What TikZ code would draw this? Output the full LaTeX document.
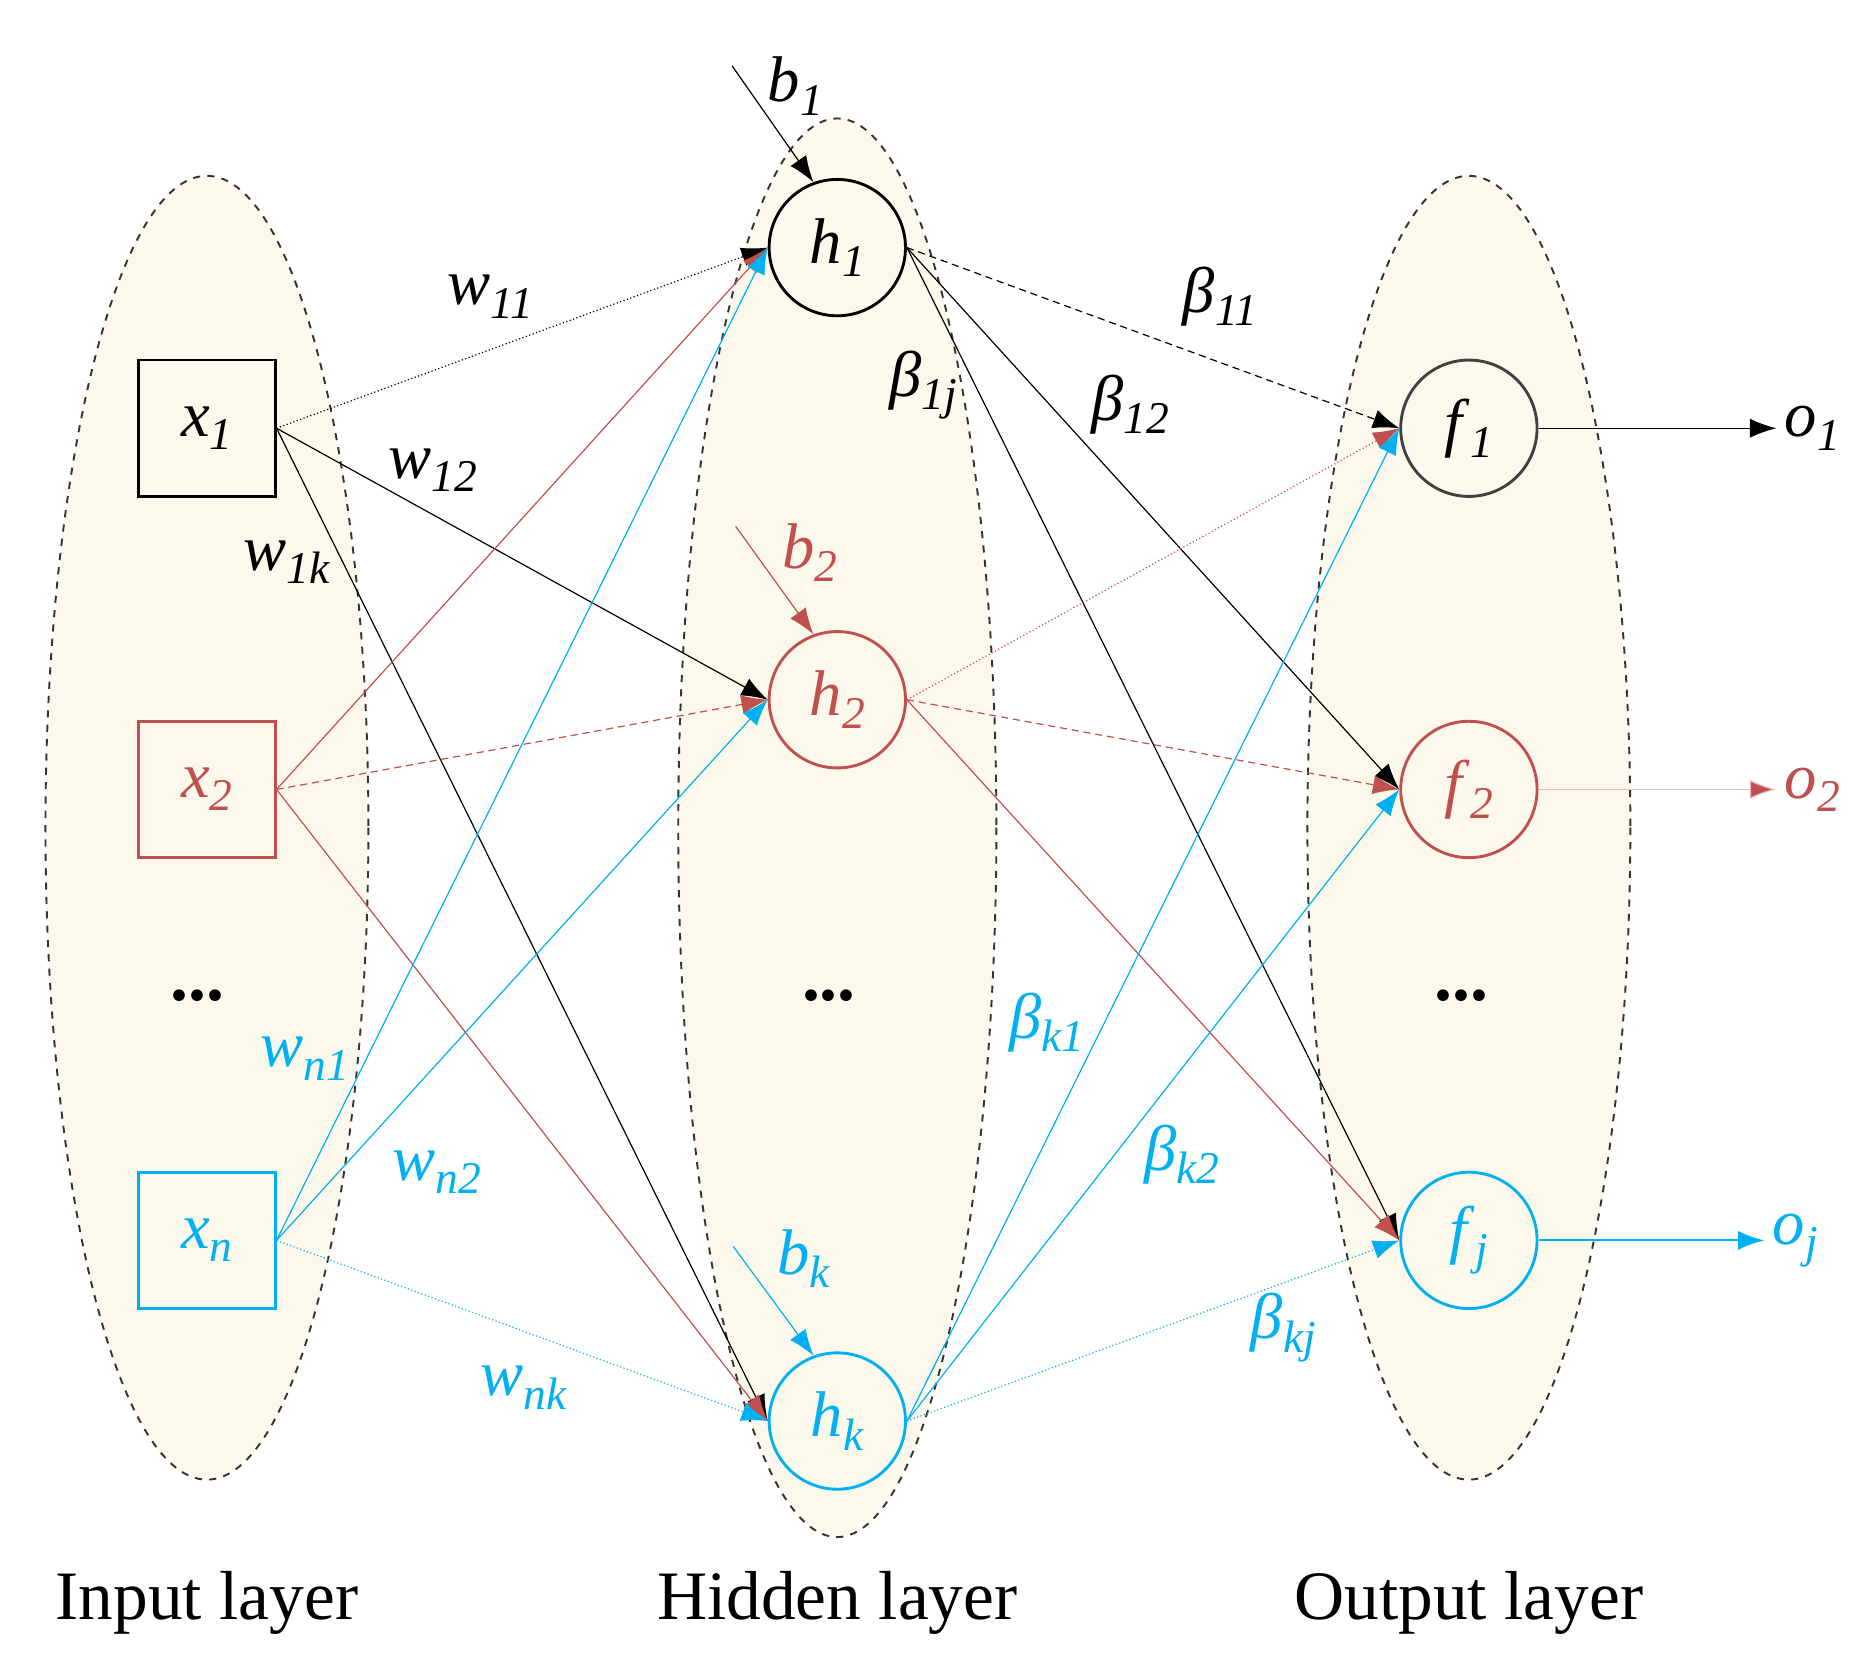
\documentclass[tikz,border=0pt]{standalone}
\usepackage{fontspec}
\setmainfont{Liberation Serif}
\usetikzlibrary{arrows.meta}
\definecolor{rd}{RGB}{192,80,77}
\definecolor{bl}{RGB}{0,176,240}
\definecolor{lay}{RGB}{253,248,236}
\newcommand{\lb}[2]{\textit{#1}\raisebox{-0.45ex}{\fontsize{19}{19}\selectfont\textit{#2}}}
\begin{document}
\begin{tikzpicture}[x=0.5pt,y=-0.5pt,
  layer/.style={draw=black!80,dashed,fill=lay,line width=0.8pt},
  sq/.style={draw,line width=1.2pt,minimum size=57pt,inner sep=0pt,font=\fontsize{27}{27}\selectfont},
  cir/.style={draw,circle,line width=1.2pt,minimum size=57pt,inner sep=0pt,font=\fontsize{27}{27}\selectfont},
  e/.style={-{Latex[length=11pt,width=8pt]},line width=0.5pt},
  lab/.style={font=\fontsize{27}{27}\selectfont},
  ttl/.style={font=\fontsize{29}{29}\selectfont}]
\useasboundingbox (0,0) rectangle (1560,1397);
\draw[layer] (173,692) ellipse [x radius=135,y radius=545];
\draw[layer] (700,692) ellipse [x radius=133,y radius=593];
\draw[layer] (1228,692) ellipse [x radius=135,y radius=545];
\node[sq] (x1) at (173,358) {\lb{x}{1}};
\node[sq,draw=rd,text=rd] (x2) at (173,660) {\lb{x}{2}};
\node[sq,draw=bl,text=bl] (xn) at (173,1037) {\lb{x}{n}};
\node[cir] (h1) at (700,207) {\lb{h}{1}};
\node[cir,draw=rd,text=rd] (h2) at (700,585) {\lb{h}{2}};
\node[cir,draw=bl,text=bl] (hk) at (700,1188) {\lb{h}{k}};
\node[cir,draw=black!75] (f1) at (1228,358) {\lb{f}{1}};
\node[cir,draw=rd,text=rd] (f2) at (1228,660) {\lb{f}{2}};
\node[cir,draw=bl,text=bl] (fj) at (1228,1037) {\lb{f}{j}};
\node[lab,anchor=west] (o1) at (1485,358) {\lb{o}{1}};
\node[lab,anchor=west,text=rd] (o2) at (1485,660) {\lb{o}{2}};
\node[lab,anchor=west,text=bl] (oj) at (1475,1037) {\lb{o}{j}};
\node[font=\fontsize{30}{30}\selectfont\bfseries] (d1) at (165,832) {...};
\node[font=\fontsize{30}{30}\selectfont\bfseries] (d2) at (693,832) {...};
\node[font=\fontsize{30}{30}\selectfont\bfseries] (d3) at (1222,832) {...};
% input -> hidden
\draw[e,densely dotted] (x1.east) -- (h1.west);
\draw[e] (x1.east) -- (h2.west);
\draw[e] (x1.east) -- (hk.west);
\draw[e,rd] (x2.east) -- (h1.west);
\draw[e,rd,densely dashed] (x2.east) -- (h2.west);
\draw[e,rd] (x2.east) -- (hk.west);
\draw[e,bl] (xn.east) -- (h1.west);
\draw[e,bl] (xn.east) -- (h2.west);
\draw[e,bl,densely dotted] (xn.east) -- (hk.west);
% hidden -> output
\draw[e,densely dashed] (h1.east) -- (f1.west);
\draw[e] (h1.east) -- (f2.west);
\draw[e] (h1.east) -- (fj.west);
\draw[e,rd,densely dotted] (h2.east) -- (f1.west);
\draw[e,rd,densely dashed] (h2.east) -- (f2.west);
\draw[e,rd] (h2.east) -- (fj.west);
\draw[e,bl] (hk.east) -- (f1.west);
\draw[e,bl] (hk.east) -- (f2.west);
\draw[e,bl,densely dotted] (hk.east) -- (fj.west);
% outputs
\draw[e] (f1.east) -- (o1.west);
\draw[e,rd!40,-{Latex[length=11pt,width=8pt,fill=rd]}] (f2.east) -- (o2.west);
\draw[e,bl,line width=0.9pt] (fj.east) -- (oj.west);
% biases
\coordinate (cb1) at (612,55);
\coordinate (cb2) at (615,440);
\coordinate (cbk) at (613,1042);
\draw[e] (cb1) -- (h1.110);
\draw[e,rd] (cb2) -- (h2.110);
\draw[e,bl] (cbk) -- (hk.110);
\node[lab] (b1) at (665,72) {\lb{b}{1}};
\node[lab,text=rd] (b2) at (677,462) {\lb{b}{2}};
\node[lab,text=bl] (bk) at (672,1052) {\lb{b}{k}};
% weights
\node[lab] (w11) at (410,248) {\lb{w}{11}};
\node[lab] (w12) at (362,393) {\lb{w}{12}};
\node[lab] (w1k) at (240,470) {\lb{w}{1k}};
\node[lab,text=bl] (wn1) at (255,885) {\lb{w}{n1}};
\node[lab,text=bl] (wn2) at (365,980) {\lb{w}{n2}};
\node[lab,text=bl] (wnk) at (438,1160) {\lb{w}{nk}};
\node[lab] (B11) at (1020,248) {\lb{β}{11}};
\node[lab] (B12) at (945,338) {\lb{β}{12}};
\node[lab] (B1j) at (772,322) {\lb{β}{1j}};
\node[lab,text=bl] (Bk1) at (875,855) {\lb{β}{k1}};
\node[lab,text=bl] (Bk2) at (988,965) {\lb{β}{k2}};
\node[lab,text=bl] (Bkj) at (1073,1110) {\lb{β}{kj}};
% titles
\node[ttl] (t1) at (173,1340) {Input layer};
\node[ttl] (t2) at (700,1340) {Hidden layer};
\node[ttl] (t3) at (1228,1340) {Output layer};
\end{tikzpicture}
\end{document}
